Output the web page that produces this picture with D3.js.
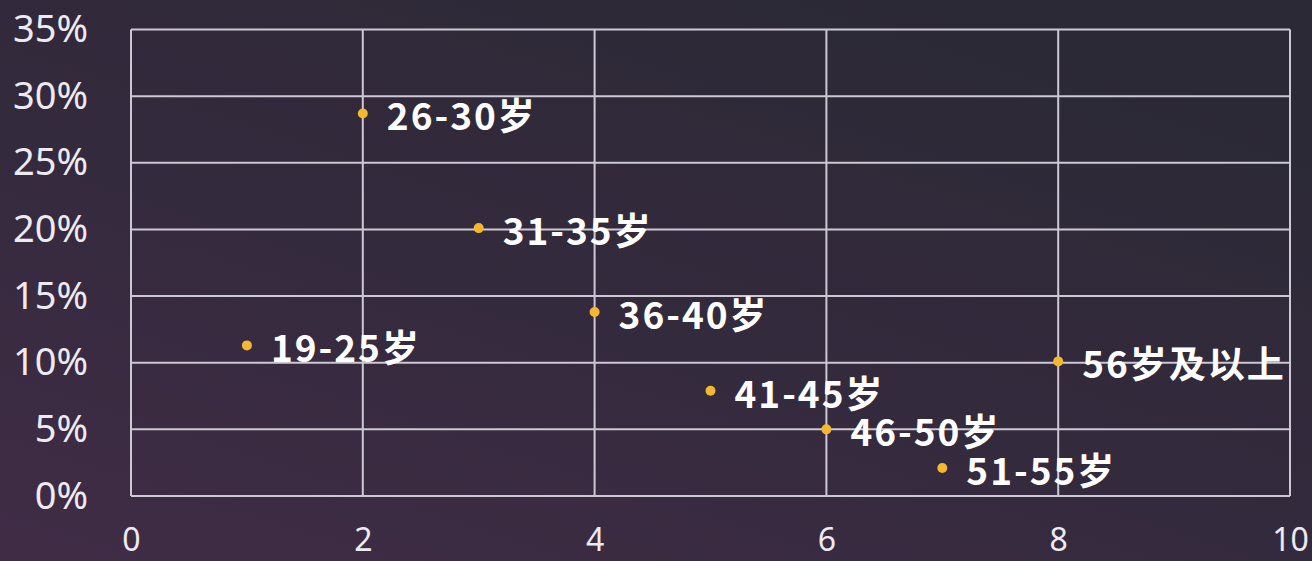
<!DOCTYPE html>
<html>
<head>
<meta charset="utf-8">
<script src="https://cdn.jsdelivr.net/npm/d3@7/dist/d3.min.js"></script>
<style>
  html, body { margin: 0; padding: 0; background: #2d2a36; }
  svg { display: block; }
</style>
</head>
<body>
<svg id="chart" width="1312" height="561"></svg>
<script>
// Age groups and their share (%) placed at sequential x positions
const ageGroups = ["19-25岁", "26-30岁", "31-35岁", "36-40岁", "41-45岁", "46-50岁", "51-55岁", "56岁及以上"];
const xPositions = [1, 2, 3, 4, 5, 6, 7, 8];
const shares = [11.3, 28.7, 20.1, 13.8, 7.9, 5.0, 2.1, 10.1];
const xTicks = [0, 2, 4, 6, 8, 10];
const yTicks = [0, 5, 10, 15, 20, 25, 30, 35];

const W = 1312, H = 561;
const plot = { left: 131, right: 1290, top: 29.5, bottom: 496 };

const svg = d3.select("#chart");

// Background: dark slate with a purple tint toward the lower left
const defs = svg.append("defs");
const bg = defs.append("linearGradient")
  .attr("id", "bg").attr("x1", "0").attr("y1", "1").attr("x2", "0.75").attr("y2", "0");
bg.append("stop").attr("offset", "0").attr("stop-color", "#402c46");
bg.append("stop").attr("offset", "0.5").attr("stop-color", "#342a3d");
bg.append("stop").attr("offset", "1").attr("stop-color", "#2b2935");
svg.append("rect").attr("width", W).attr("height", H).attr("fill", "url(#bg)");

const x = d3.scaleLinear().domain([0, 10]).range([plot.left, plot.right]);
const y = d3.scaleLinear().domain([0, 35]).range([plot.bottom, plot.top]);

const gridColor = "#cdc9d4";

// Vertical grid lines (including frame edges)
svg.append("g")
  .selectAll("line").data(xTicks).join("line")
  .attr("x1", d => x(d)).attr("x2", d => x(d))
  .attr("y1", y(35)).attr("y2", y(0))
  .attr("stroke", gridColor).attr("stroke-width", 2);

// Horizontal grid lines
svg.append("g")
  .selectAll("line").data(yTicks).join("line")
  .attr("x1", x(0)).attr("x2", x(10))
  .attr("y1", d => y(d)).attr("y2", d => y(d))
  .attr("stroke", gridColor).attr("stroke-width", 2);

const tickFont = "'Noto Sans', 'Open Sans', sans-serif";

// Y axis labels
const yAxis = d3.axisLeft(y).tickValues(yTicks).tickFormat(d => d + "%").tickSize(0).tickPadding(43);
const gy = svg.append("g").attr("transform", `translate(${plot.left},0)`).call(yAxis);
gy.select(".domain").remove();
gy.selectAll("text")
  .attr("fill", "#eeeaf2")
  .style("font-family", tickFont)
  .style("font-size", "38px");

// X axis labels, positioned by their baseline so they stay inside the frame
const xAxis = d3.axisBottom(x).tickValues(xTicks).tickFormat(d3.format("d")).tickSize(0);
const gx = svg.append("g").attr("transform", `translate(0,${plot.bottom})`).call(xAxis);
gx.select(".domain").remove();
gx.selectAll("text")
  .attr("y", 55)
  .attr("dy", null)
  .attr("fill", "#eeeaf2")
  .style("font-family", tickFont)
  .style("font-size", "32px");

// Points with labels
const data = ageGroups.map((g, i) => ({ label: g, x: xPositions[i], v: shares[i] }));

svg.append("g")
  .selectAll("circle").data(data).join("circle")
  .attr("cx", d => x(d.x)).attr("cy", d => y(d.v))
  .attr("r", 5)
  .attr("fill", "#f4b730");

svg.append("g")
  .selectAll("text").data(data).join("text")
  .attr("x", d => x(d.x) + 24)
  .attr("y", d => y(d.v) + 1)
  .attr("dominant-baseline", "central")
  .attr("fill", "#ffffff")
  .style("font-family", "'Noto Sans CJK SC', 'Noto Sans', sans-serif")
  .style("font-weight", "700")
  .style("font-size", "37px")
  .style("letter-spacing", "2px")
  .text(d => d.label);
</script>
</body>
</html>
